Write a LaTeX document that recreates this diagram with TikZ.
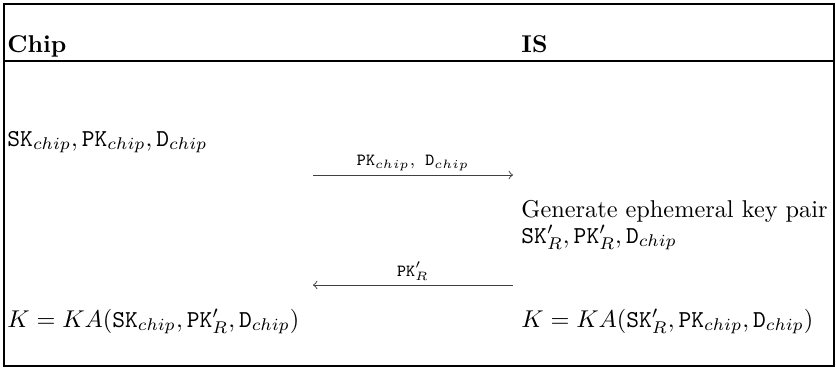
\documentclass[tikz,border=0pt]{standalone}
\usetikzlibrary{positioning}
\tikzset{
    % Party header
    party/.style={
        anchor=base west,
        inner sep=0pt,
        font=\bfseries
    },
    % Protocol step text
    entry/.style={
        anchor=base west,
        inner sep=0pt,
        align=left
    },
    % Message arrow
    msg/.style={
        ->,
        >=to,
        thin,
        color=black!75
    },
    % Message label
    msglabel/.style={
        above=0.5pt,
        inner sep=1pt,
        font=\scriptsize,
        text=black
    },
    % Frame lines
    frame/.style={
        line width=0.8pt
    }
}

\begin{document}
\begin{tikzpicture}[x=0.4115pt, y=-0.4115pt]
        \useasboundingbox (0,0) rectangle (836,369);
        % Frame and header rule
        \draw [frame] (4,4) rectangle (834,366);
        \draw [frame] (4,61) -- (834,61);

        % Parties
        \node (chip) [party] at (7,52) {Chip};
        \node (is) [party] at (521,52) {IS};

        % Chip side
        \node (chipkeys) [entry] at (7,146) {$\mathtt{SK}_{chip}, \mathtt{PK}_{chip}, \mathtt{D}_{chip}$};
        \node (chipk) [entry] at (7,327) {$K = KA(\mathtt{SK}_{chip}, \mathtt{PK}'_{R}, \mathtt{D}_{chip})$};

        % IS side (base anchor sits on the last line)
        \node (isgen) [entry] at (521,243) {Generate ephemeral key pair\\[-1.7pt]
            $\mathtt{SK}'_{R}, \mathtt{PK}'_{R}, \mathtt{D}_{chip}$};
        \node (isk) [entry] at (521,327) {$K = KA(\mathtt{SK}'_{R}, \mathtt{PK}_{chip}, \mathtt{D}_{chip})$};

        % Messages
        \coordinate (m1a) at (313,175);
        \coordinate (m1b) at (513,175);
        \coordinate (m2a) at (513,285);
        \coordinate (m2b) at (313,285);

        \draw [msg] (m1a) -- node [msglabel] {$\mathtt{PK}_{chip},\ \mathtt{D}_{chip}$} (m1b);
        \draw [msg] (m2a) -- node [msglabel] {$\mathtt{PK}'_{R}$} (m2b);
    \end{tikzpicture}
\end{document}
